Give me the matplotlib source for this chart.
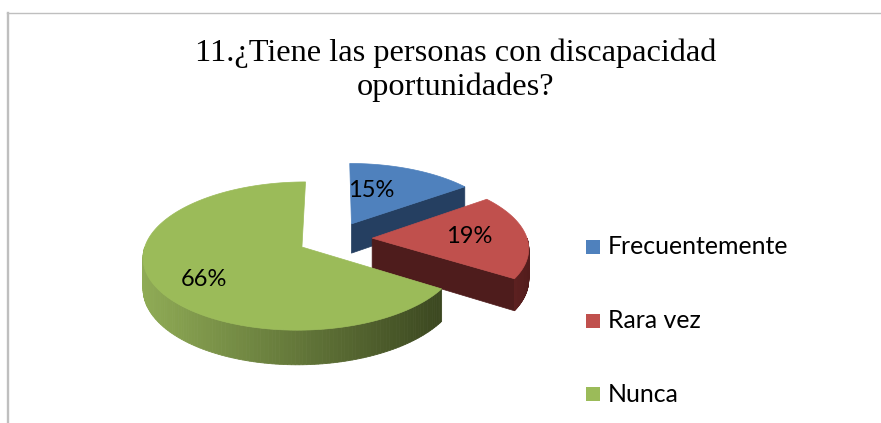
import numpy as np
import matplotlib
matplotlib.use('Agg')
import matplotlib.pyplot as plt
from matplotlib.patches import Polygon, Rectangle
from matplotlib.lines import Line2D
from matplotlib.colors import to_rgb

# ---------------- data ----------------
categories = ['Frecuentemente', 'Rara vez', 'Nunca']
values = [15, 19, 66]
title_lines = ['11.¿Tiene las personas con discapacidad', 'oportunidades?']

# ---------------- style ----------------
top_colors = ['#4F81BD', '#C0504D', '#9BBB59']
wall_left = ['#2A4A70', '#5C2020', '#8FAB55']
wall_right = ['#233D5E', '#521C1C', '#3B4720']
radial_colors = ['#253F61', '#4E1C1C', '#4A5A28']
label_frac = [0.28, 0.5, 0.47]
label_r = [0.55, 0.63, 0.72]

W, H = 881, 423
fig = plt.figure(figsize=(W / 100, H / 100), dpi=100)
ax = fig.add_axes([0, 0, 1, 1])
ax.set_xlim(0, W)
ax.set_ylim(H, 0)
ax.axis('off')

# chart-area border (top and left visible)
ax.add_line(Line2D([7, 880], [13, 13], color='#BFBFBF', lw=1.0))
ax.add_line(Line2D([7.5, 7.5], [13, 423], color='#BFBFBF', lw=1.7))

# title
ax.text(456, 61, title_lines[0], ha='center', va='baseline',
        family='Liberation Serif', fontsize=23.3, color='black')
ax.text(456, 95, title_lines[1], ha='center', va='baseline',
        family='Liberation Serif', fontsize=23.3, color='black')

# ---------------- 3D pie geometry ----------------
X0, Y0 = 335.0, 238.7
R0, RY = 155.0, 71.0
PX, PY = 0.12, 0.12
DEPTH = 30.0
EXPLODE = 0.24


def proj(u, v, z=0.0):
    sx = 1.0 / (1.0 + PX * v)
    sy = 1.0 / (1.0 + PY * v)
    return X0 + R0 * u * sx, Y0 - RY * v * sy + DEPTH * z * sy


def lerp(c1, c2, t):
    a, b = np.array(to_rgb(c1)), np.array(to_rgb(c2))
    return tuple(a + (b - a) * t)


total = float(sum(values))
bounds = np.concatenate([[0], np.cumsum(values)]) / total * 360.0

for i, val in enumerate(values):
    a0, a1 = bounds[i], bounds[i + 1]
    mid = np.radians((a0 + a1) / 2)
    ou, ov = EXPLODE * np.sin(mid), EXPLODE * np.cos(mid)

    def pt(t, z=0.0, r=1.0):
        tr = np.radians(t)
        return proj(ou + r * np.sin(tr), ov + r * np.cos(tr), z)

    # radial walls facing the viewer
    if 0 < a1 < 180:
        quad = [proj(ou, ov, 0), pt(a1, 0), pt(a1, 1), proj(ou, ov, 1)]
        ax.add_patch(Polygon(quad, closed=True, fc=radial_colors[i],
                             ec=radial_colors[i], lw=0.5, zorder=2 + i * 3))
    if 180 < a0 < 360:
        quad = [proj(ou, ov, 0), pt(a0, 0), pt(a0, 1), proj(ou, ov, 1)]
        ax.add_patch(Polygon(quad, closed=True, fc=radial_colors[i],
                             ec=radial_colors[i], lw=0.5, zorder=2 + i * 3))

    # outer (curved) wall, visible front half, shaded left -> right
    lo, hi = max(a0, 90.0), min(a1, 270.0)
    if hi > lo:
        ts = np.linspace(lo, hi, 120)
        xs = [pt(t)[0] for t in ts]
        xmin, xmax = min(xs), max(xs)
        for k in range(len(ts) - 1):
            q = [pt(ts[k]), pt(ts[k + 1]), pt(ts[k + 1], 1), pt(ts[k], 1)]
            xm = (q[0][0] + q[1][0]) / 2
            f = (xm - xmin) / max(xmax - xmin, 1e-6)
            c = lerp(wall_left[i], wall_right[i], f)
            ax.add_patch(Polygon(q, closed=True, fc=c, ec=c, lw=0.6,
                                 zorder=3 + i * 3))

    # top face
    ts = np.linspace(a0, a1, 200)
    poly = [proj(ou, ov, 0)] + [pt(t) for t in ts]
    ax.add_patch(Polygon(poly, closed=True, fc=top_colors[i],
                         ec=top_colors[i], lw=0.5, zorder=4 + i * 3))

    # data label
    tl = a0 + (a1 - a0) * label_frac[i]
    lx, ly = pt(tl, 0, label_r[i])
    ax.text(lx, ly, f'{round(val / total * 100)}%', ha='center', va='center',
            family='Lato', fontsize=17, color='black', zorder=20)

# ---------------- legend ----------------
leg_x, leg_y0, leg_dy, sq = 586, 247, 73.7, 14
for i, name in enumerate(categories):
    yc = leg_y0 + i * leg_dy
    ax.add_patch(Rectangle((leg_x, yc - sq / 2), sq, sq, fc=top_colors[i],
                           ec='none', zorder=20))
    ax.text(leg_x + 22, yc, name, ha='left', va='center', family='Lato',
            fontsize=17.9, color='black', zorder=20)

fig.savefig('out.png', dpi=100, facecolor='white')
